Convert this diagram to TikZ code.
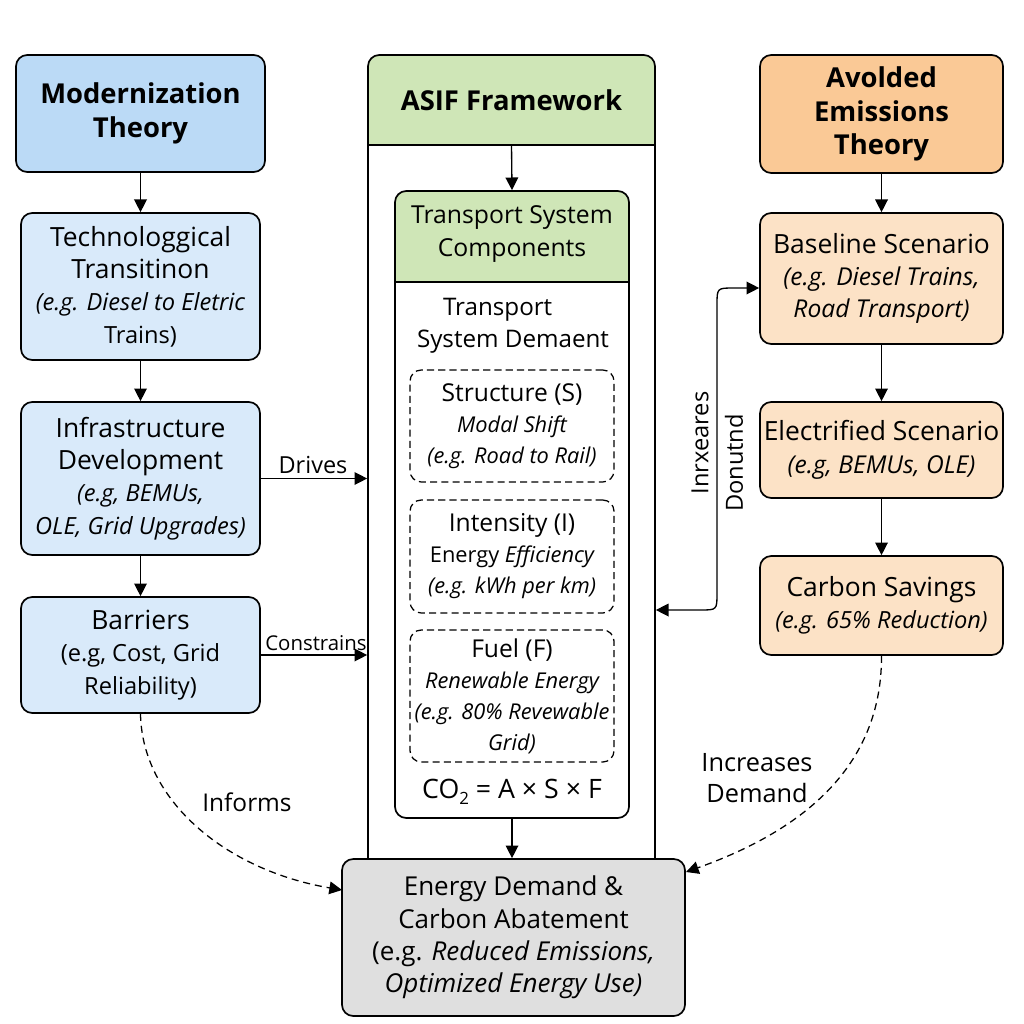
\documentclass[tikz,border=0pt]{standalone}
\usepackage{fontspec}
\setmainfont{Open Sans}
\usetikzlibrary{arrows.meta,calc}
\definecolor{modblue}{HTML}{BBDAF6}
\definecolor{subblue}{HTML}{D9EAFA}
\definecolor{asifgreen}{HTML}{CFE6B7}
\definecolor{avorange}{HTML}{FAC996}
\definecolor{suborange}{HTML}{FCE2C6}
\definecolor{abgray}{HTML}{DFDFDF}
\newcommand\ttlb{\fontsize{19.5}{24}\selectfont\bfseries}
\newcommand\ttl{\fontsize{18.8}{23}\selectfont}
\newcommand\sml{\fontsize{16.8}{23}\selectfont}
\newcommand\smr{\fontsize{17.5}{23}\selectfont}
\newcommand\dtl{\fontsize{17.5}{22}\selectfont}
\newcommand\dsm{\fontsize{15.5}{22}\selectfont}
\tikzset{
  bx/.style 2 args={minimum width=#1*0.025cm, minimum height=#2*0.025cm},
  box/.style={draw, line width=1.2pt, rounded corners=8pt, align=center, inner sep=0pt},
  dbox/.style={draw, line width=0.9pt, rounded corners=8pt, dash pattern=on 5pt off 3pt, align=center, inner sep=0pt, font=\dtl},
  arr/.style={line width=0.95pt, -{Triangle[length=9pt,width=9pt]}},
  darr/.style={line width=0.9pt, dash pattern=on 5pt off 3.5pt, -{Triangle[length=9pt,width=9pt]}},
  lbl/.style={inner sep=0pt, align=center},
}
\begin{document}
\begin{tikzpicture}[x=0.025cm,y=-0.025cm]
\useasboundingbox (0,0) rectangle (1024,1024);
\fill[white] (0,0) rectangle (1024,1024);

% ---------- left column ----------
\node[box, fill=modblue, bx={249}{117}, font=\ttlb] (mod) at (140.5,113.5) {Modernization\\Theory};
\node[box, fill=subblue, bx={239}{147}, font=\ttl] (tech) at (140.5,286.5) {Technologgical\\Transitinon\\{\sml\itshape (e.g. Diesel to Eletric}\\{\sml Trains)}};
\node[box, fill=subblue, bx={239}{153}, font=\ttl] (infra) at (140.5,478.5) {Infrastructure\\Development\\{\sml\itshape (e.g, BEMUs,}\\{\sml\itshape OLE, Grid Upgrades)}};
\node[box, fill=subblue, bx={239}{116}, font=\ttl] (barr) at (140.5,655) {Barriers\\{\sml (e.g, Cost, Grid}\\{\sml Reliability)}};

\draw[arr] (mod) -- (tech);
\draw[arr] (tech) -- (infra);
\draw[arr] (infra) -- (barr);

% ---------- centre ----------
\fill[asifgreen, rounded corners=8pt] (368,55) rectangle (655,145);
\fill[asifgreen] (368,110) rectangle (655,145);
\node[draw, line width=1.2pt, rounded corners=8pt, inner sep=0pt, bx={287}{815}] (asif) at (511.5,462.5) {};
\draw[line width=1.2pt] (368,145) -- (655,145);
\node[lbl, font=\ttlb] (asifhead) at (511.5,100) {ASIF Framework};
\coordinate (asifsep) at (511.5,145);

\fill[asifgreen, rounded corners=8pt] (395,191) rectangle (629,282);
\fill[asifgreen] (395,240) rectangle (629,282);
\node[draw, line width=1.2pt, rounded corners=8pt, inner sep=0pt, bx={234}{627}] (tsc) at (512,504.5) {};
\draw[line width=1.2pt] (395,282) -- (629,282);
\node[lbl, font={\fontsize{17.6}{23}\selectfont}] (tschead) at (512,234) {Transport System\\Components};

\draw[arr] (asifsep) -- (tsc.north);

\node[lbl, align=left, font={\fontsize{17.2}{23}\selectfont}] (tsd) at (513,326) {\hspace*{0.65cm}Transport\\System Demaent};

\node[dbox, bx={204}{112}] (struct) at (512,426) {Structure (S)\\{\dsm\itshape Modal Shift}\\{\dsm\itshape (e.g. Road to Rail)}};
\node[dbox, bx={204}{113}] (inten) at (512,556.5) {Intensity (I)\\{\dsm Energy \itshape Efficiency}\\{\dsm\itshape (e.g. kWh per km)}};
\node[dbox, bx={204}{132}] (fuel) at (512,696) {Fuel (F)\\{\dsm\itshape Renewable Energy}\\{\dsm\itshape (e.g. 80\% Revewable}\\{\dsm\itshape Grid)}};
\node[lbl, font={\fontsize{19}{23}\selectfont}] (co2) at (512,792) {CO{\fontsize{12}{12}\selectfont\raisebox{-4pt}{2}} = A × S × F};

% ---------- right column ----------
\node[box, fill=avorange, bx={243}{118}, font=\ttlb] (avoid) at (881.5,114) {Avolded\\Emissions\\Theory};
\node[box, fill=suborange, bx={243}{131}, font=\ttl] (base) at (881.5,278.5) {Baseline Scenario\\{\smr\itshape (e.g. Diesel Trains,}\\{\smr\itshape Road Transport)}};
\node[box, fill=suborange, bx={243}{96}, font=\ttl] (elec) at (881.5,450) {Electrified Scenario\\{\smr\itshape (e.g, BEMUs, OLE)}};
\node[box, fill=suborange, bx={243}{99}, font=\ttl] (carb) at (881.5,605.5) {Carbon Savings\\{\sml\itshape (e.g. 65\% Reduction)}};

\draw[arr] (avoid) -- (base);
\draw[arr] (base) -- (elec);
\draw[arr] (elec) -- (carb);

% ---------- bottom ----------
\node[box, fill=abgray, bx={343}{157}, font={\fontsize{18.5}{23}\selectfont}] (gray) at (513.5,937.5) {Energy Demand \&\\Carbon Abatement\\(e.g. {\itshape Reduced Emissions,}\\{\itshape Optimized Energy Use)}};
\draw[arr] (tsc.south) -- (tsc.south |- gray.north);

% ---------- connectors ----------
\draw[arr] (infra.east) -- (infra.east -| asif.west);
\node[lbl, font={\fontsize{16.7}{20}\selectfont}] (drives) at (313,465) {Drives};
\draw[arr] (barr.east) -- (barr.east -| asif.west);
\node[lbl, font={\fontsize{14.5}{18}\selectfont}] (constr) at (316,643) {Constrains};

\coordinate (dtop) at (717,288);
\coordinate (dbot) at (717,610);
\draw[line width=0.95pt, {Triangle[length=9pt,width=9pt]}-{Triangle[length=9pt,width=9pt]}]
  (dbot -| asif.east) -- ($(dbot)+(-17,0)$) .. controls (dbot) .. ($(dbot)+(0,-17)$)
  -- ($(dtop)+(0,17)$) .. controls (dtop) .. ($(dtop)+(17,0)$) -- (dtop -| base.west);
\node[lbl, rotate=90, font={\fontsize{16.8}{20}\selectfont}] (inrx) at (700,443) {Inrxeares};
\node[lbl, rotate=90, font={\fontsize{16.8}{20}\selectfont}] (donu) at (734,463) {Donutnd};

\coordinate (gin) at (342,890);
\draw[darr] (barr.south) .. controls (142,800) and (225,870) .. (gin);
\node[lbl, font={\fontsize{17.4}{22}\selectfont}] (informs) at (247,802) {Informs};

\coordinate (gout) at (686,872);
\draw[darr] (carb.south) .. controls (882,775) and (790,835) .. (gout);
\node[lbl, font={\fontsize{18}{22}\selectfont}] (incr) at (757,778) {Increases\\Demand};
\end{tikzpicture}
\end{document}
